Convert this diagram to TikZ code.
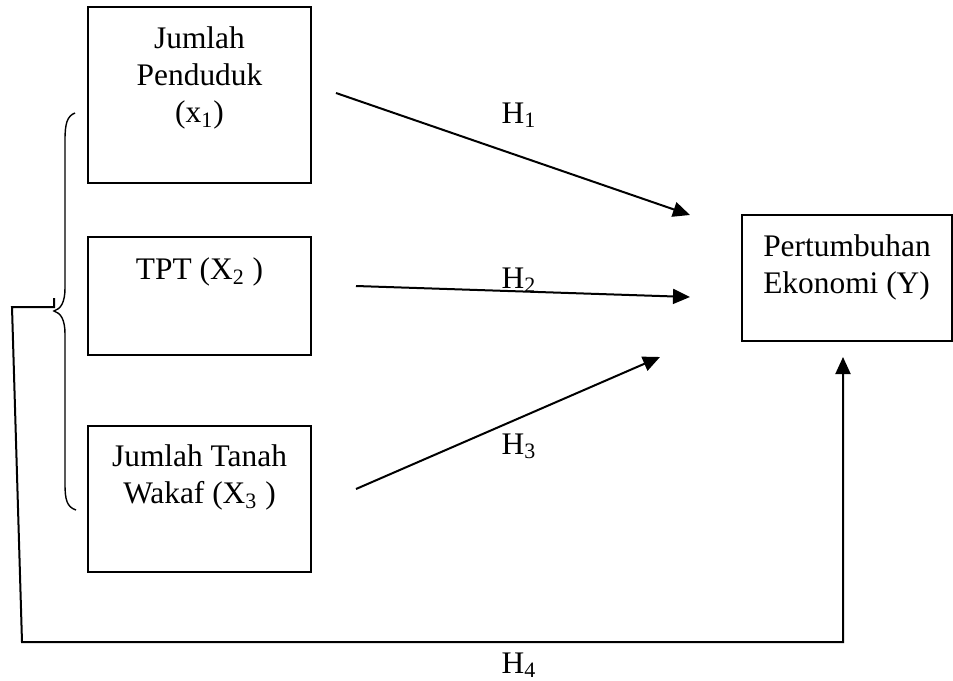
\documentclass[tikz,border=0pt]{standalone}
\usepackage{fontspec}
\setmainfont{Liberation Serif}
\usetikzlibrary{arrows.meta,positioning}

\begin{document}
\begin{tikzpicture}[x=0.5pt,y=-0.5pt,
        varbox/.style={draw=black, line width=0.7pt, inner sep=0pt},
        boxtext/.style={font={\fontsize{15.7}{18.5}\selectfont}, align=center, inner sep=0pt},
        hlabel/.style={font={\fontsize{15.7}{18.5}\selectfont}, inner sep=0pt, anchor=base},
        hyparrow/.style={line width=1pt, -{Triangle[length=8.5pt,width=7.5pt]}}]
        \useasboundingbox (0,0) rectangle (953,680);

        % variable boxes
        \node[varbox, minimum width=111.5pt, minimum height=88pt] (jp) at (199.5,95) {};
        \node[varbox, minimum width=111.5pt, minimum height=59pt] (tpt) at (199.5,296) {};
        \node[varbox, minimum width=111.5pt, minimum height=73pt] (jtw) at (199.5,499) {};
        \node[varbox, minimum width=105pt, minimum height=63pt] (pe) at (847,278) {};

        \node[boxtext, below=10pt of jp.north] (jptext) {Jumlah\\Penduduk\\(x\textsubscript{1})};
        \node[boxtext, below=10.5pt of tpt.north] (tpttext) {TPT (X\textsubscript{2} )};
        \node[boxtext, below=9.5pt of jtw.north] (jtwtext) {Jumlah Tanah\\Wakaf (X\textsubscript{3} )};
        \node[boxtext, align=left, below=10pt of pe.north] (petext) {Pertumbuhan\\Ekonomi (Y)};

        % arrow ends
        \coordinate (h1a) at (336,93);
        \coordinate (h1b) at (690,215);
        \coordinate (h2a) at (356,286);
        \coordinate (h2b) at (690,297);
        \coordinate (h3a) at (356,489);
        \coordinate (h3b) at (660,357);

        \draw[hyparrow] (h1a) -- (h1b);
        \draw[hyparrow] (h2a) -- (h2b);
        \draw[hyparrow] (h3a) -- (h3b);

        % brace and joint path
        \coordinate (bracetip) at (54,311);
        \coordinate (tick) at (54,298);
        \coordinate (c1) at (12,307);
        \coordinate (c2) at (22,642);
        \coordinate (c3) at (843,642);
        \coordinate (h4b) at (843,357);

        \draw[line width=0.7pt] (75,113) .. controls (67,116) and (65,124) .. (65,140)
            -- (65,288) .. controls (65,302) and (61,309) .. (bracetip)
            .. controls (61,313) and (65,320) .. (65,334)
            -- (65,484) .. controls (65,500) and (67,507) .. (76,510);
        \draw[hyparrow] (tick) -- (54,307) -- (c1) -- (c2) -- (c3) -- (h4b);

        \node[hlabel] (h1) at (519,123) {H\textsubscript{1}};
        \node[hlabel] (h2) at (519,288) {H\textsubscript{2}};
        \node[hlabel] (h3) at (519,454) {H\textsubscript{3}};
        \node[hlabel] (h4) at (519,673) {H\textsubscript{4}};
    \end{tikzpicture}
\end{document}
